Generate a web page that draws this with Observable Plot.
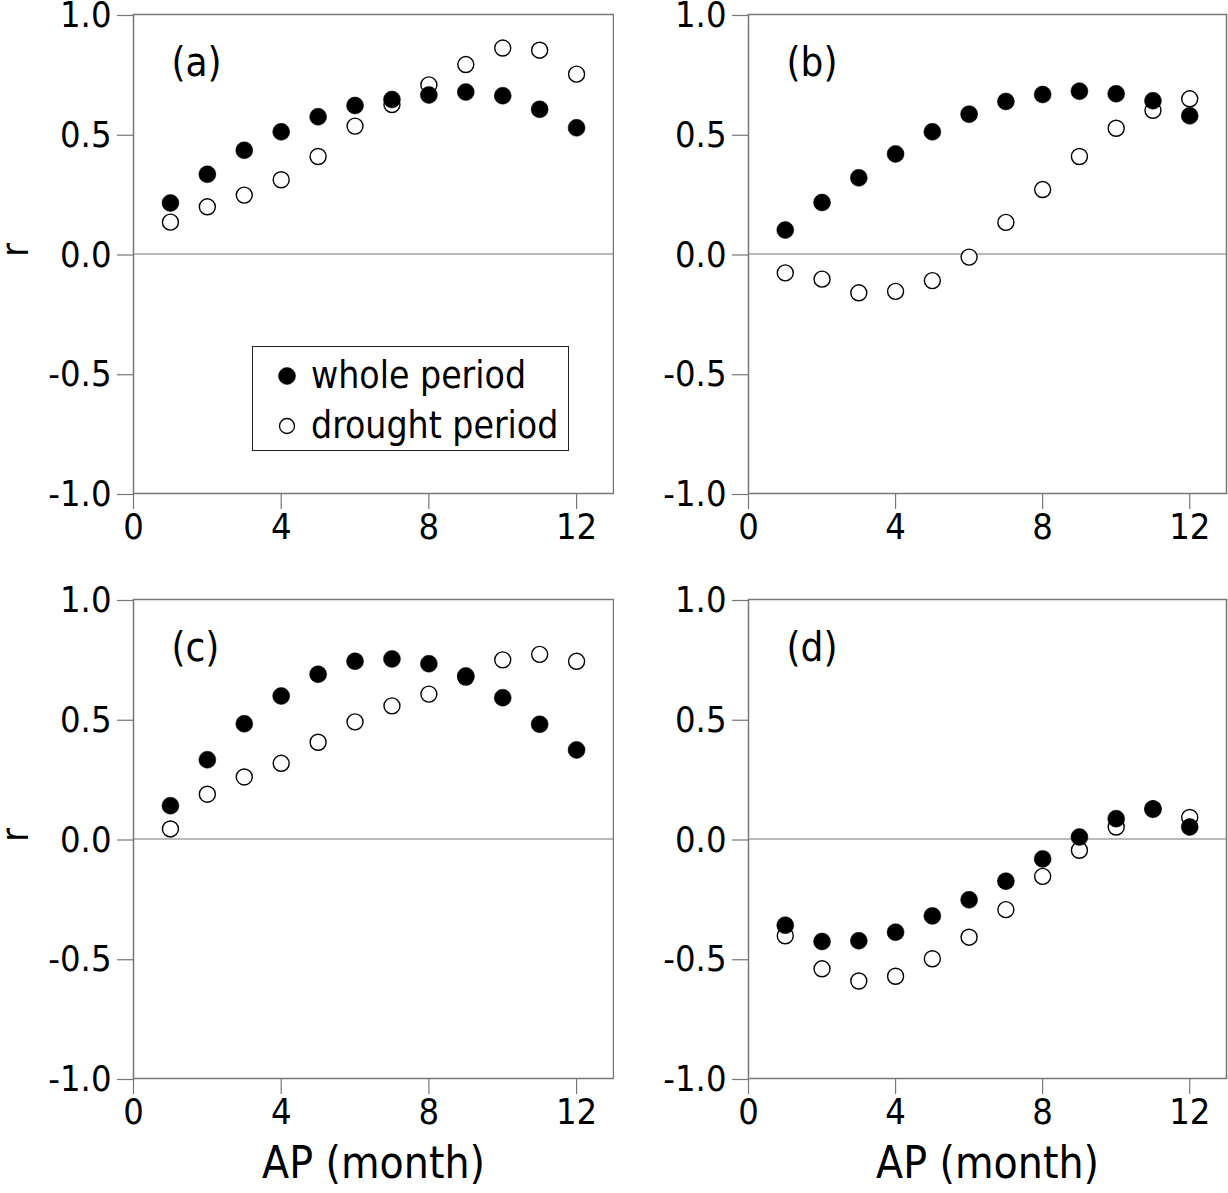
<!DOCTYPE html>
<html><head><meta charset="utf-8">
<script src="https://cdn.jsdelivr.net/npm/d3@7"></script>
<script src="https://cdn.jsdelivr.net/npm/@observablehq/plot@0.6"></script>
<style>
body{margin:0;background:#fff;}
#wrap{position:relative;width:1228px;height:1193px;overflow:hidden;font-family:"DejaVu Sans Condensed","DejaVu Sans",sans-serif;}
.panel{position:absolute;}
#legend{position:absolute;left:252px;top:346px;width:315px;height:103px;border:1.5px solid #222;background:#fff;}
#legend .row{position:absolute;left:0;height:50px;display:flex;align-items:center;}
#legend .lbl{position:absolute;left:58px;font-size:37px;line-height:37px;white-space:nowrap;color:#000;}
#legend svg{position:absolute;left:24px;}
</style></head><body><div id="wrap"></div>
<script>
// ---- data ----
const months = [1, 2, 3, 4, 5, 6, 7, 8, 9, 10, 11, 12];
const aWhole   = [0.213, 0.333, 0.433, 0.510, 0.573, 0.620, 0.645, 0.664, 0.676, 0.661, 0.604, 0.527];
const aDrought = [0.133, 0.197, 0.246, 0.310, 0.407, 0.534, 0.624, 0.706, 0.791, 0.860, 0.851, 0.751];
const bWhole   = [0.100, 0.215, 0.318, 0.418, 0.510, 0.584, 0.637, 0.666, 0.680, 0.669, 0.640, 0.577];
const bDrought = [-0.079, -0.105, -0.162, -0.156, -0.111, -0.013, 0.132, 0.269, 0.407, 0.525, 0.600, 0.648];
const cWhole   = [0.139, 0.331, 0.481, 0.597, 0.688, 0.742, 0.752, 0.732, 0.681, 0.590, 0.479, 0.372];
const cDrought = [0.042, 0.187, 0.259, 0.316, 0.404, 0.489, 0.556, 0.605, 0.676, 0.748, 0.771, 0.742];
const dWhole   = [-0.360, -0.428, -0.425, -0.389, -0.321, -0.254, -0.176, -0.083, 0.008, 0.085, 0.124, 0.050];
const dDrought = [-0.404, -0.542, -0.593, -0.573, -0.500, -0.410, -0.295, -0.156, -0.047, 0.050, 0.127, 0.090];
const xTicks = [0, 4, 8, 12];
const yTicks = [-1, -0.5, 0, 0.5, 1];
const panelLabels = ["(a)", "(b)", "(c)", "(d)"];
const seriesNames = ["whole period", "drought period"];
const xLabel = "AP (month)";
const yLabel = "r";

const FONT = '"DejaVu Sans Condensed","DejaVu Sans",sans-serif';
const wrap = document.getElementById("wrap");

const panels = [
  {label: panelLabels[0], whole: aWhole, drought: aDrought, left: 0,   top: 0,   width: 614, height: 585, ml: 133, mr: 1, mb: 92,  yl: true,  xl: false},
  {label: panelLabels[1], whole: bWhole, drought: bDrought, left: 614, top: 0,   width: 614, height: 585, ml: 134, mr: 2, mb: 92,  yl: false, xl: false},
  {label: panelLabels[2], whole: cWhole, drought: cDrought, left: 0,   top: 585, width: 614, height: 608, ml: 133, mr: 1, mb: 115, yl: true,  xl: true},
  {label: panelLabels[3], whole: dWhole, drought: dDrought, left: 614, top: 585, width: 614, height: 608, ml: 134, mr: 2, mb: 115, yl: false, xl: true}
];

for (const p of panels) {
  const rows = months.map((m, i) => ({m, whole: p.whole[i], drought: p.drought[i]}));
  const marks = [
    Plot.ruleY([0], {stroke: "#777", strokeWidth: 1.2}),
    Plot.frame({stroke: "#777", strokeWidth: 1.5}),
    Plot.axisY({ticks: yTicks, tickSize: 16, tickPadding: 6, tickFormat: d => d.toFixed(1),
      stroke: "#777", strokeWidth: 1.2, fill: "black", fontSize: 36, dy: 1, label: null}),
    Plot.axisX({ticks: xTicks, tickSize: 16, tickPadding: 4, tickFormat: d => String(d),
      stroke: "#777", strokeWidth: 1.2, fill: "black", fontSize: 36, label: null}),
    Plot.dot(rows, {x: "m", y: "drought", r: 8, fill: "white", stroke: "black", strokeWidth: 1.4}),
    Plot.dot(rows, {x: "m", y: "whole", r: 8.5, fill: "black", stroke: "black", strokeWidth: 0.5}),
    Plot.text([p.label], {frameAnchor: "top-left", dx: 38, dy: 49, textAnchor: "start", lineAnchor: "middle", fontSize: 40, fill: "black"})
  ];
  if (p.yl) marks.push(Plot.text([yLabel], {frameAnchor: "left", rotate: -90, dx: -106, dy: -4, lineAnchor: "bottom", textAnchor: "middle", fontSize: 37, fill: "black"}));
  if (p.xl) marks.push(Plot.text([xLabel], {frameAnchor: "bottom", dy: 85, lineAnchor: "middle", textAnchor: "middle", fontSize: 44, fill: "black"}));
  const chart = Plot.plot({
    width: p.width, height: p.height,
    marginLeft: p.ml, marginRight: p.mr, marginTop: 14, marginBottom: p.mb,
    x: {domain: [0, 13]},
    y: {domain: [-1, 1]},
    style: {fontFamily: FONT, fontSize: "36px", background: "white", color: "black", overflow: "visible"},
    marks
  });
  chart.classList.add("panel");
  chart.style.left = p.left + "px";
  chart.style.top = p.top + "px";
  wrap.appendChild(chart);
}

// legend (panel a)
const legend = document.createElement("div");
legend.id = "legend";
seriesNames.forEach((name, i) => {
  const row = document.createElement("div");
  row.className = "row";
  row.style.top = (4 + i * 50) + "px";
  row.style.width = "315px";
  row.innerHTML = `<svg width="20" height="20" viewBox="-10 -10 20 20" style="top:15px"><circle r="${i === 0 ? 8.5 : 7.5}" fill="${i === 0 ? "black" : "white"}" stroke="black" stroke-width="${i === 0 ? 0.5 : 1.3}"/></svg><span class="lbl" style="top:6px">${name}</span>`;
  legend.appendChild(row);
});
wrap.appendChild(legend);
</script>
</body></html>
